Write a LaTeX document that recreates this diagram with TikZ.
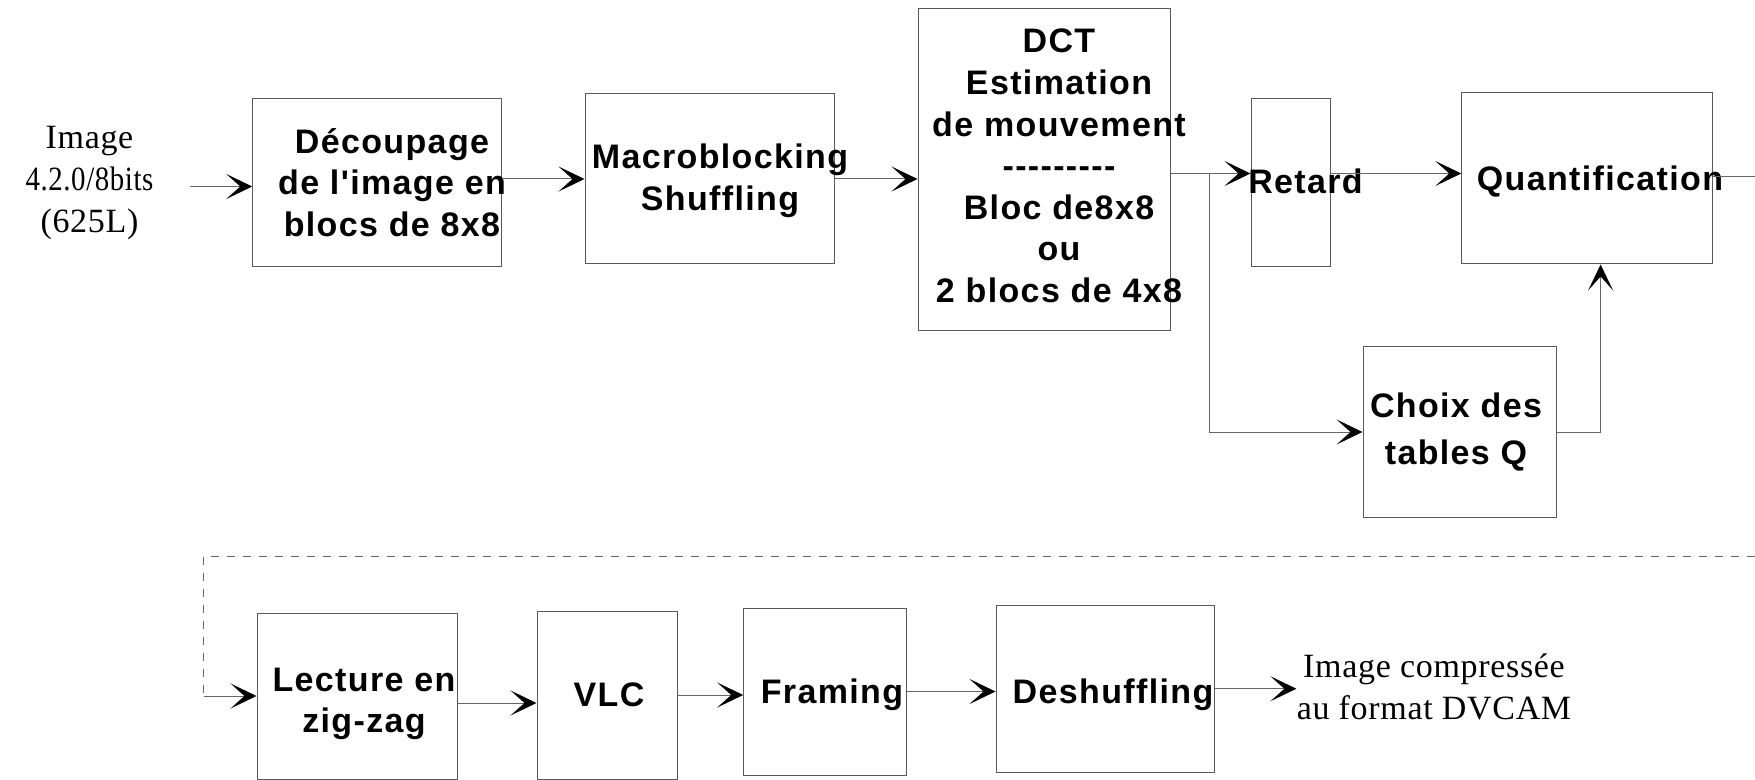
\documentclass[tikz,border=0pt]{standalone}
\usepackage{fontspec}
\setmainfont{Liberation Serif}
\newfontfamily\boxfont[LetterSpace=4]{Liberation Sans}
\newfontfamily\lblfont[LetterSpace=2]{Liberation Serif}
\usetikzlibrary{arrows.meta}
\begin{document}
\begin{tikzpicture}[x=0.5pt,y=-0.5pt,
  box/.style={draw=black!65, line width=0.5pt, inner sep=0pt},
  btext/.style={font=\boxfont\bfseries\fontsize{17}{20.8}\selectfont, align=center, inner sep=0pt},
  lbl/.style={font=\lblfont\fontsize{17}{21}\selectfont, align=center, inner sep=0pt},
  conn/.style={draw=black!60, line width=0.5pt},
  arr/.style={conn, -{Stealth[length=13pt,width=12.5pt,inset=7pt]}, arrows={[black]}},
  fb/.style={draw=black!60, line width=0.5pt, dash pattern=on 4pt off 4pt}
]
\useasboundingbox (0,0) rectangle (1755,780);

% top row boxes
\node[box, minimum width=124.25pt, minimum height=84pt] (dec) at (377,182.5) {};
\node[box, minimum width=124.5pt, minimum height=85pt] (mac) at (709.5,179) {};
\node[box, minimum width=126pt, minimum height=161pt] (dct) at (1044,170) {};
\node[box, minimum width=39.5pt, minimum height=84pt] (ret) at (1290.5,182.5) {};
\node[box, minimum width=125.25pt, minimum height=85.5pt] (qua) at (1587,178.5) {};
\node[box, minimum width=96.5pt, minimum height=85pt] (cho) at (1459.5,432) {};

% bottom row boxes
\node[box, minimum width=100pt, minimum height=83pt] (lec) at (357,696) {};
\node[box, minimum width=70pt, minimum height=84pt] (vlc) at (607,695) {};
\node[box, minimum width=81.3pt, minimum height=83.5pt] (fra) at (825,691.5) {};
\node[box, minimum width=109pt, minimum height=83.3pt] (des) at (1105,688.75) {};

% box texts
\node[btext] (dect) at ([xshift=7.5pt]dec.center) {Découpage\\de l'image en\\blocs de 8x8};
\node[btext] (mact) at ([xshift=5.25pt,yshift=-0.8pt]mac.center) {Macroblocking\\Shuffling};
\node[btext] (dctt) at ([xshift=7.5pt,yshift=2pt]dct.center) {DCT\\Estimation\\de mouvement\\---------\\Bloc de8x8\\ou\\2 blocs de 4x8};
\node[btext] (rett) at ([xshift=7.5pt,yshift=0.5pt]ret.center) {Retard};
\node[btext] (quat) at ([xshift=6.5pt,yshift=-1.5pt]qua.center) {Quantification};
\node[btext] (chot) at ([xshift=-1.75pt]cho.center) {Choix des\\[3pt]tables Q};
\node[btext] (lect) at ([xshift=3.5pt,yshift=-4pt]lec.center) {Lecture en\\zig-zag};
\node[btext] (vlct) at ([xshift=1pt]vlc.center) {VLC};
\node[btext] (frat) at ([xshift=3.5pt,yshift=-1.5pt]fra.center) {Framing};
\node[btext] (dest) at ([xshift=4pt,yshift=-3pt]des.center) {Deshuffling};

% outside labels
\node[lbl] (in) at (89.5,182.5) {Image\\\scalebox{0.85}[1]{4.2.0/8bits}\\(625L)};
\node[lbl] (out) at (1434,687) {Image compressée\\au format DVCAM};

% helper coordinates
\coordinate (j) at (1209,173.5);
\coordinate (k) at (1600.6,433);
\coordinate (qout) at (1755,177);
\coordinate (fb1) at (1755,556);
\coordinate (fb2) at (203.7,556);

% connectors
\draw[arr] ([xshift=18pt,yshift=-2pt]in.east) -- ([yshift=-2pt]dec.west);
\draw[arr] (dec.east |- mac.west) -- (mac.west);
\draw[arr] (mac.east) -- (mac.east -| dct.west);
\draw[conn] (dct.east |- j) -- (j);
\draw[arr] (j) -- (j -| ret.west);
\draw[arr] (j) |- (cho.west);
\draw[arr] (ret.east |- j) -- (j -| qua.west);
\draw[conn] (qua.east |- qout) -- (qout);
\draw[arr] (cho.east) -- (cho.east -| k) -- (k |- qua.south);
\draw[fb] (fb1) -- (fb2) -- (fb2 |- lec.west);
\draw[arr] (fb2 |- lec.west) -- (lec.west);
\draw[arr] ([yshift=-3.5pt]lec.east) -- ([yshift=-3.5pt]lec.east -| vlc.west);
\draw[arr] (vlc.east) -- (vlc.east -| fra.west);
\draw[arr] (fra.east) -- (fra.east -| des.west);
\draw[arr] (des.east) -- (des.east -| out.west);
\end{tikzpicture}
\end{document}
